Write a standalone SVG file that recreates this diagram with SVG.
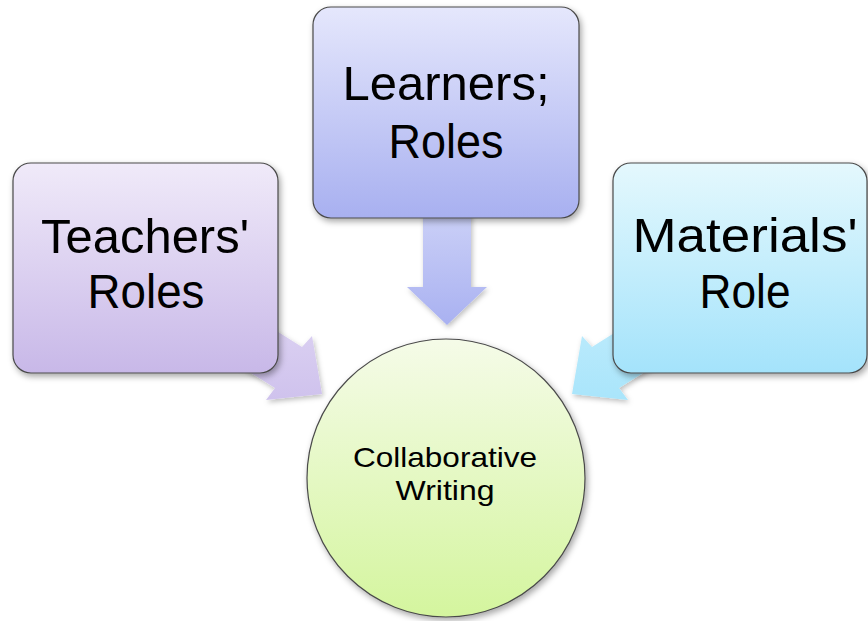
<svg xmlns="http://www.w3.org/2000/svg" width="868" height="621" viewBox="0 0 868 621">
<style>
.box{stroke:#4a4a4a;stroke-width:1.2;filter:url(#sh)}
.big{font-family:"Liberation Sans",Arial,sans-serif;font-size:49px;fill:#000;text-anchor:middle}
.small{font-family:"Liberation Sans",Arial,sans-serif;font-size:28px;fill:#000;text-anchor:middle}
.arr{filter:url(#ash)}
</style>
<defs>
<filter id="sh" x="-10%" y="-10%" width="130%" height="130%">
<feDropShadow dx="2" dy="3" stdDeviation="3" flood-color="#000" flood-opacity="0.35"/>
</filter>
<filter id="ash" x="-20%" y="-20%" width="150%" height="150%">
<feDropShadow dx="1.5" dy="2.5" stdDeviation="2.5" flood-color="#000" flood-opacity="0.25"/>
</filter>
<linearGradient id="gT" x1="0" y1="0" x2="0" y2="1"><stop offset="0" stop-color="#f0eaf9"/><stop offset="1" stop-color="#c8b8e8"/></linearGradient>
<linearGradient id="gL" x1="0" y1="0" x2="0" y2="1"><stop offset="0" stop-color="#e5e7fc"/><stop offset="1" stop-color="#a8b0f0"/></linearGradient>
<linearGradient id="gM" x1="0" y1="0" x2="0" y2="1"><stop offset="0" stop-color="#e4f8fd"/><stop offset="1" stop-color="#a4e3fb"/></linearGradient>
<linearGradient id="gC" x1="0" y1="0" x2="0" y2="1"><stop offset="0" stop-color="#f5fbe8"/><stop offset="1" stop-color="#d4f59e"/></linearGradient>
<linearGradient id="gaT" x1="0" y1="0" x2="0" y2="1"><stop offset="0" stop-color="#dcd2f2"/><stop offset="1" stop-color="#cfc2ed"/></linearGradient>
<linearGradient id="gaL" x1="0" y1="0" x2="0" y2="1"><stop offset="0" stop-color="#ccd1f7"/><stop offset="1" stop-color="#a9b1f1"/></linearGradient>
<linearGradient id="gaM" x1="0" y1="0" x2="0" y2="1"><stop offset="0" stop-color="#bdebfc"/><stop offset="1" stop-color="#a9e5fb"/></linearGradient>
</defs>
<rect width="868" height="621" fill="#fff"/>
<g id="connectors">
<polygon class="arr" fill="url(#gaT)" points="256,318 302,347 312,336 322,394 266,400 275,388 230,360"/>
<polygon class="arr" fill="url(#gaL)" points="423,210 471,210 471,287 487,287 447,325 407,287 423,287"/>
<polygon class="arr" fill="url(#gaM)" points="638,318 592,347 582,336 572,394 628,400 619,388 664,360"/>
</g>
<g id="teachers">
<rect class="box" x="13" y="163" width="265" height="210" rx="18" fill="url(#gT)"/>
<text class="big" x="145" y="253" textLength="208" lengthAdjust="spacingAndGlyphs">Teachers'</text>
<text class="big" x="146" y="308" textLength="117" lengthAdjust="spacingAndGlyphs">Roles</text>
</g>
<g id="learners">
<rect class="box" x="313" y="7" width="266" height="211" rx="18" fill="url(#gL)"/>
<text class="big" x="446" y="100" textLength="207" lengthAdjust="spacingAndGlyphs">Learners;</text>
<text class="big" x="446" y="158" textLength="115" lengthAdjust="spacingAndGlyphs">Roles</text>
</g>
<g id="materials">
<rect class="box" x="613" y="163" width="254" height="210" rx="18" fill="url(#gM)"/>
<text class="big" x="745" y="252" textLength="225" lengthAdjust="spacingAndGlyphs">Materials'</text>
<text class="big" x="745" y="308" textLength="91" lengthAdjust="spacingAndGlyphs">Role</text>
</g>
<g id="collaborative">
<circle class="box" cx="446" cy="478" r="139" fill="url(#gC)"/>
<text class="small" x="445" y="467" textLength="184" lengthAdjust="spacingAndGlyphs">Collaborative</text>
<text class="small" x="445" y="500" textLength="99" lengthAdjust="spacingAndGlyphs">Writing</text>
</g>
</svg>
